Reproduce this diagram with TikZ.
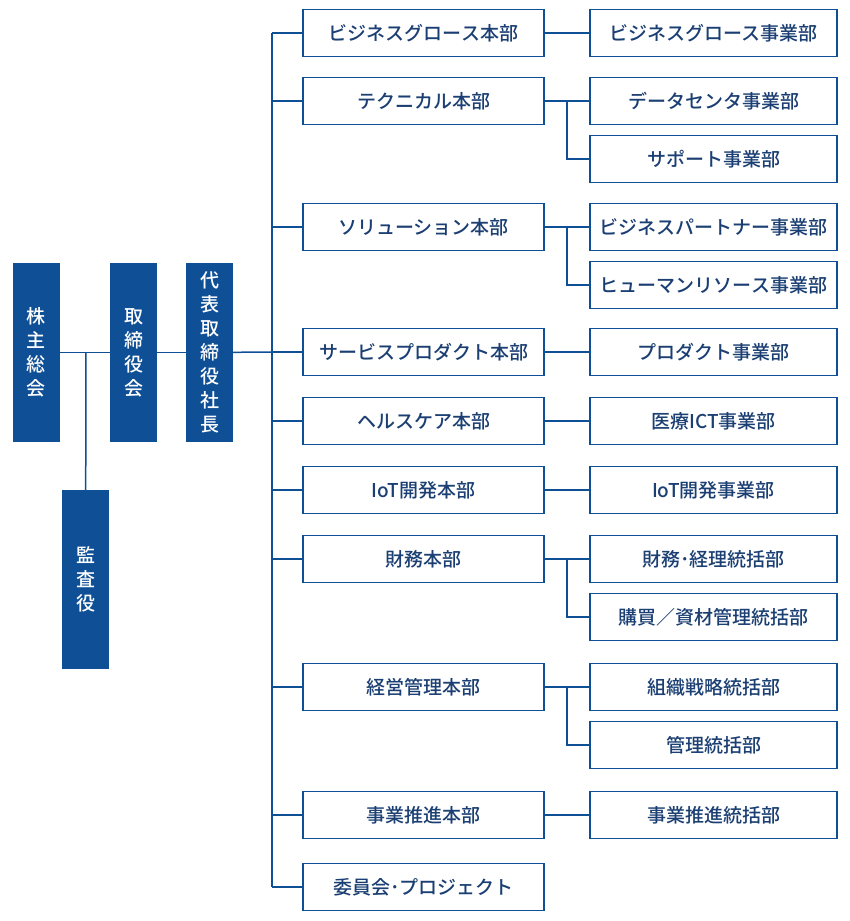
\documentclass[tikz,border=0pt]{standalone}
\usepackage{fontspec}
\setmainfont{Noto Sans CJK JP}[UprightFont=* Medium]
\usetikzlibrary{positioning}
\definecolor{myblue}{HTML}{0F4F96}
\definecolor{mytext}{HTML}{1B3F73}
\tikzset{x=1pt, y=-1pt, every text node part/.style={align=center, font={\fontsize{19pt}{24pt}\selectfont}}}
\tikzstyle{vbox} = [fill=myblue, text=white, minimum width=47pt, minimum height=179pt, inner sep=0pt]
\tikzstyle{block} = [draw=myblue, fill=white, text=mytext, line width=1.5pt, minimum width=241pt, minimum height=47pt, inner sep=0pt]
\tikzstyle{sub} = [block, minimum width=247pt]
\tikzstyle{ln} = [draw=myblue, line width=1.5pt]

\begin{document}
\begin{tikzpicture}
  \useasboundingbox (0,0) rectangle (850,921);

  % Define top blocks
  \node[vbox] (share) at (36.5,352.5) {株\\主\\総\\会};
  \node[vbox] (board) at (133.5,352.5) {取\\締\\役\\会};
  \node[vbox] (ceo) at (209.5,352.5) {代\\表\\取\\締\\役\\社\\長};
  \node[vbox] (audit) at (85.5,579.5) {監\\査\\役};

  % Define divisions
  \node[block] (bg) at (423.5,33) {ビジネスグロース本部};
  \node[block] (tech) at (423.5,101) {テクニカル本部};
  \node[block] (sol) at (423.5,227) {ソリューション本部};
  \node[block] (sp) at (423.5,352) {サービスプロダクト本部};
  \node[block] (hc) at (423.5,421) {ヘルスケア本部};
  \node[block] (iot) at (423.5,490) {IoT開発本部};
  \node[block] (fin) at (423.5,559) {財務本部};
  \node[block] (mgmt) at (423.5,687) {経営管理本部};
  \node[block] (bp) at (423.5,815) {事業推進本部};
  \node[block] (comm) at (423.5,887) {委員会･プロジェクト};

  % Define departments
  \node[sub] (bgD) at (713.5,33) {ビジネスグロース事業部};
  \node[sub] (dcD) at (713.5,101) {データセンタ事業部};
  \node[sub] (supD) at (713.5,159) {サポート事業部};
  \node[sub] (bpD) at (713.5,227) {ビジネスパートナー事業部};
  \node[sub] (hrD) at (713.5,285) {ヒューマンリソース事業部};
  \node[sub] (prD) at (713.5,352) {プロダクト事業部};
  \node[sub] (ictD) at (713.5,421) {医療ICT事業部};
  \node[sub] (iotD) at (713.5,490) {IoT開発事業部};
  \node[sub] (accD) at (713.5,559) {財務･経理統括部};
  \node[sub] (purD) at (713.5,617) {購買／資材管理統括部};
  \node[sub] (orgD) at (713.5,687) {組織戦略統括部};
  \node[sub] (admD) at (713.5,745) {管理統括部};
  \node[sub] (bpuD) at (713.5,815) {事業推進統括部};

  % Draw lines
  \draw[ln] (share) -- (board);
  \draw[ln] (board) -- (ceo);
  \draw[ln] (86,352) -- (audit);
  \coordinate (trunk) at (272,352);
  \draw[ln] (ceo) -- (trunk);
  \draw[ln] (272,33) -- (272,887);
  \foreach \n in {bg,tech,sol,sp,hc,iot,fin,mgmt,bp,comm}
    \draw[ln] (\n.west) -- (\n.west -| trunk);
  \foreach \a/\b in {bg/bgD,sp/prD,hc/ictD,iot/iotD,bp/bpuD}
    \draw[ln] (\a) -- (\b);
  \foreach \a/\b/\c in {tech/dcD/supD,sol/bpD/hrD,fin/accD/purD,mgmt/orgD/admD}
    \draw[ln] (\a.east) -- (\b.west) (567,0 |- \b.west) |- (\c.west);

\end{tikzpicture}
\end{document}
